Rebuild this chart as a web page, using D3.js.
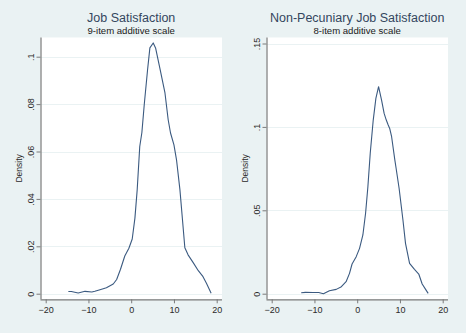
<!DOCTYPE html>
<html>
<head>
<meta charset="utf-8">
<script src="https://cdn.jsdelivr.net/npm/d3@7"></script>
<style>
  html, body { margin: 0; padding: 0; background: #eaf2f3; }
  svg { display: block; font-family: "Liberation Sans", Arial, sans-serif; }
</style>
</head>
<body>
<div id="chart"></div>
<script>
// Job satisfaction (9-item scale): kernel density estimate
const jobX = [-14.7, -14.0, -12.4, -10.8, -9.2, -8.5, -7.3, -5.8, -4.2, -3.4, -2.5, -1.5, -0.54, 0.24, 0.87, 1.4, 2.0, 2.5,
  3.05, 3.83, 4.37, 5.15, 5.7, 6.7, 7.9, 8.65, 9.2, 10.0, 10.6, 11.4, 12.0, 12.55, 13.3, 14.5, 15.7, 16.8, 17.6, 18.7];
const jobY = [0.0009, 0.0009, 0.0003, 0.001, 0.0007, 0.001, 0.0017, 0.0025, 0.0041, 0.006, 0.0103, 0.0159, 0.0192, 0.0231, 0.0319, 0.0438, 0.0621, 0.068,
  0.0797, 0.0945, 0.1037, 0.1058, 0.1037, 0.0952, 0.0847, 0.0734, 0.0678, 0.0628, 0.0565, 0.0438, 0.0311, 0.0194, 0.0164, 0.0131, 0.0097, 0.0072, 0.0044, 0.0002];

// Non-pecuniary job satisfaction (8-item scale)
const npX = [-13.1, -12.1, -10.4, -9.0, -7.9, -6.5, -4.9, -3.7, -2.6, -1.8, -1.2, -0.23, 0.55, 1.33, 1.96, 2.5, 3.05, 3.75,
  4.37, 5.0, 5.7, 6.3, 6.8, 7.25, 7.6, 8.05, 8.8, 9.1, 9.8, 10.7, 11.3, 12.25, 13.4, 14.4, 15.2, 16.0, 16.6];
const npY = [0.0006, 0.0008, 0.0007, 0.0007, 0.0, 0.0018, 0.0026, 0.0042, 0.0072, 0.0122, 0.0178, 0.0222, 0.0272, 0.0352, 0.0482, 0.0641, 0.0842, 0.1041,
  0.1171, 0.1241, 0.1161, 0.1081, 0.1041, 0.1011, 0.0991, 0.0941, 0.0802, 0.0752, 0.0632, 0.0442, 0.0302, 0.0182, 0.0146, 0.0118, 0.0058, 0.0026, 0.0002];

const xTicks = [-20, -10, 0, 10, 20];
const jobYTicks = [0, 0.02, 0.04, 0.06, 0.08, 0.1];
const npYTicks = [0, 0.05, 0.1, 0.15];

const panels = [
  { title: "Job Satisfaction", subtitle: "9-item additive scale", xs: jobX, ys: jobY, yTicks: jobYTicks,
    left: 40.5, right: 222, top: 37.5, zeroY: 293.7, yTop: 56.7, yTopVal: 0.1 },
  { title: "Non-Pecuniary Job Satisfaction", subtitle: "8-item additive scale", xs: npX, ys: npY, yTicks: npYTicks,
    left: 266.5, right: 448, top: 37.5, zeroY: 293.7, yTop: 43.5, yTopVal: 0.15 }
];

const W = 466, H = 333;
const svg = d3.select("#chart").append("svg").attr("width", W).attr("height", H);
svg.append("rect").attr("width", W).attr("height", H).attr("fill", "#eaf2f3");

const fmt = d => d === 0 ? "0" : d3.format(".2~f")(d).replace(/^0/, "");

panels.forEach(p => {
  const axisY = 299.3;
  const x0 = p.left + 5.2;  // -20 position
  const x = d3.scaleLinear().domain([-20, 20]).range([x0, x0 + 4 * 42.75]);
  const y = d3.scaleLinear().domain([0, p.yTopVal]).range([p.zeroY, p.yTop]);
  const g = svg.append("g");

  // plot region
  g.append("rect")
    .attr("x", p.left).attr("y", p.top)
    .attr("width", p.right - p.left).attr("height", axisY - p.top)
    .attr("fill", "#ffffff");

  // gridlines
  g.selectAll(".grid").data(p.yTicks).enter().append("line")
    .attr("x1", p.left).attr("x2", p.right)
    .attr("y1", d => Math.round(y(d)) + 0.5).attr("y2", d => Math.round(y(d)) + 0.5)
    .attr("stroke", "#eaf2f3").attr("stroke-width", 1);

  // y axis
  const yAxis = g.append("g").attr("transform", `translate(${p.left},0)`)
    .call(d3.axisLeft(y).tickValues(p.yTicks).tickFormat(fmt).tickSize(4).tickSizeOuter(0));
  yAxis.select(".domain").attr("d", `M0.5,${p.top}V${axisY}`);
  yAxis.selectAll(".tick text")
    .attr("transform", "rotate(-90)")
    .attr("x", 0).attr("dy", "0")
    .attr("y", -7)
    .attr("text-anchor", "middle");

  // x axis
  const xAxis = g.append("g").attr("transform", `translate(0,${axisY})`)
    .call(d3.axisBottom(x).tickValues(xTicks).tickFormat(d3.format("d")).tickSize(4).tickSizeOuter(0));
  xAxis.select(".domain").attr("d", `M${p.left},0.5H${p.right}`);
  xAxis.selectAll(".tick text").attr("y", 7);

  [yAxis, xAxis].forEach(a => {
    a.select(".domain").attr("stroke", "#7a7a7a").attr("stroke-width", 1.2);
    a.selectAll(".tick line").attr("stroke", "#7a7a7a");
    a.selectAll(".tick text").attr("fill", "#2a2a2a").style("font-size", "9px")
      .style("font-family", "'Liberation Sans', Arial, sans-serif");
  });

  // axis title
  g.append("text")
    .attr("transform", `translate(${p.left - 19},${(p.top + axisY) / 2}) rotate(-90)`)
    .attr("text-anchor", "middle")
    .attr("fill", "#2a2a2a")
    .style("font-size", "8.5px")
    .text("Density");

  // titles
  const cx = x(0);
  g.append("text").attr("x", cx).attr("y", 21.5).attr("text-anchor", "middle")
    .attr("fill", "#34465e").style("font-size", "12.5px").text(p.title);
  g.append("text").attr("x", cx).attr("y", 34).attr("text-anchor", "middle")
    .attr("fill", "#1a1a1a").style("font-size", "9.6px").text(p.subtitle);

  // density line
  const pts = p.xs.map((v, i) => [v, p.ys[i]]);
  g.append("path").datum(pts)
    .attr("fill", "none")
    .attr("stroke", "#3b5a80")
    .attr("stroke-width", 1.1)
    .attr("stroke-linejoin", "round")
    .attr("d", d3.line().x(d => x(d[0])).y(d => y(d[1])));
});
</script>
</body>
</html>
